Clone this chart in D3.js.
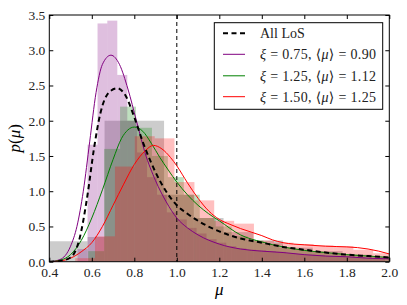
<!DOCTYPE html>
<html>
<head>
<meta charset="utf-8">
<script src="https://cdn.jsdelivr.net/npm/d3@7"></script>
<style>
  html, body { margin: 0; padding: 0; background: #fff; }
  svg { display: block; }
  text { font-family: "Liberation Serif", "DejaVu Serif", serif; }
</style>
</head>
<body>
<svg id="chart" width="407" height="305"></svg>
<script>
// ---------------- DATA ----------------
const xTicks = [0.4, 0.6, 0.8, 1.0, 1.2, 1.4, 1.6, 1.8, 2.0];
const yTicks = [0.0, 0.5, 1.0, 1.5, 2.0, 2.5, 3.0, 3.5];

// histograms (bin edges, heights)
const allEdges   = [0.40, 0.58, 0.66, 0.80, 0.94, 1.08, 1.22, 1.36, 1.50, 1.64, 1.78, 1.92, 2.06];
const allHeights = [0.29, 0.35, 2.00, 2.00, 0.95, 0.62, 0.42, 0.30, 0.20, 0.15, 0.10, 0.07];

const purpleEdges = [0.533, 0.580, 0.627, 0.673, 0.720, 0.767, 0.813, 0.860, 0.907, 0.953, 1.000,
  1.047, 1.093, 1.140, 1.187, 1.233, 1.280, 1.327, 1.373, 1.420, 1.467, 1.513, 1.560, 1.607,
  1.653, 1.700, 1.747, 1.793, 1.840, 1.887, 1.933, 1.980];
const purpleHeights = [0.18, 1.66, 3.38, 3.42, 2.65, 2.00, 1.55, 1.20, 0.95, 0.70, 0.60,
  0.48, 0.40, 0.32, 0.27, 0.22, 0.19, 0.17, 0.16, 0.15, 0.14, 0.12, 0.11, 0.10,
  0.09, 0.08, 0.08, 0.07, 0.06, 0.05, 0.05];

const greenEdges = [0.583, 0.658, 0.733, 0.808, 0.883, 0.958, 1.033, 1.108, 1.183, 1.258, 1.333,
  1.408, 1.483, 1.558, 1.633, 1.708, 1.783, 1.858, 1.933, 2.008];
const greenHeights = [0.15, 1.60, 2.20, 1.90, 1.50, 1.20, 0.95, 0.62, 0.50, 0.36, 0.30,
  0.25, 0.20, 0.17, 0.14, 0.12, 0.10, 0.08, 0.06];

const redEdges = [0.522, 0.615, 0.709, 0.802, 0.896, 0.989, 1.083, 1.176, 1.270, 1.363, 1.457,
  1.550, 1.644, 1.737, 1.831, 1.924, 2.018];
const redHeights = [0.05, 0.36, 1.35, 1.78, 1.75, 1.13, 0.87, 0.58, 0.54, 0.30, 0.27,
  0.25, 0.23, 0.22, 0.17, 0.12];

// smooth curves
const allMu = [0.40, 0.45, 0.50, 0.54, 0.58, 0.61, 0.64, 0.68, 0.72, 0.76, 0.80, 0.84, 0.88, 0.92, 0.96,
  1.00, 1.05, 1.10, 1.20, 1.30, 1.40, 1.50, 1.60, 1.70, 1.80, 1.90, 2.00];
const allP  = [0.00, 0.01, 0.06, 0.30, 0.95, 1.60, 2.10, 2.40, 2.46, 2.35, 2.05, 1.70, 1.40, 1.15, 0.95,
  0.80, 0.68, 0.58, 0.43, 0.33, 0.27, 0.21, 0.17, 0.13, 0.10, 0.08, 0.06];

const purpleMu = [0.40, 0.45, 0.50, 0.53, 0.56, 0.59, 0.62, 0.65, 0.69, 0.73, 0.77, 0.81, 0.85, 0.90, 0.95,
  1.00, 1.05, 1.10, 1.20, 1.30, 1.40, 1.50, 1.60, 1.70, 1.80, 1.90, 2.00];
const purpleP  = [0.00, 0.03, 0.22, 0.50, 1.00, 1.70, 2.40, 2.80, 2.93, 2.80, 2.45, 2.00, 1.55, 1.15, 0.85,
  0.62, 0.48, 0.38, 0.25, 0.18, 0.15, 0.13, 0.10, 0.08, 0.07, 0.05, 0.04];

const greenMu = [0.40, 0.45, 0.50, 0.55, 0.60, 0.65, 0.70, 0.74, 0.77, 0.80, 0.84, 0.88, 0.92, 0.96,
  1.00, 1.05, 1.10, 1.15, 1.20, 1.30, 1.40, 1.50, 1.60, 1.70, 1.80, 1.90, 2.00];
const greenP  = [0.00, 0.02, 0.10, 0.30, 0.62, 1.02, 1.45, 1.75, 1.87, 1.91, 1.85, 1.68, 1.48, 1.30,
  1.13, 0.95, 0.80, 0.68, 0.58, 0.38, 0.28, 0.21, 0.16, 0.13, 0.10, 0.08, 0.06];

const redMu = [0.40, 0.45, 0.50, 0.55, 0.60, 0.65, 0.70, 0.75, 0.80, 0.85, 0.89, 0.93, 0.97, 1.00,
  1.05, 1.10, 1.15, 1.20, 1.25, 1.30, 1.35, 1.40, 1.45, 1.50, 1.55, 1.60, 1.70, 1.80, 1.85, 1.90, 1.95, 2.00];
const redP  = [0.00, 0.01, 0.05, 0.14, 0.27, 0.50, 0.80, 1.10, 1.38, 1.57, 1.65, 1.60, 1.48, 1.36,
  1.12, 0.90, 0.72, 0.60, 0.53, 0.47, 0.42, 0.37, 0.31, 0.27, 0.25, 0.24, 0.22, 0.21, 0.20, 0.18, 0.15, 0.11];

const legendLabels = [
  [{t: "All LoS"}],
  [{t: "ξ", i: true}, {t: " = 0.75, ⟨"}, {t: "μ", i: true}, {t: "⟩ = 0.90"}],
  [{t: "ξ", i: true}, {t: " = 1.25, ⟨"}, {t: "μ", i: true}, {t: "⟩ = 1.12"}],
  [{t: "ξ", i: true}, {t: " = 1.50, ⟨"}, {t: "μ", i: true}, {t: "⟩ = 1.25"}]
];

// ---------------- CHART ----------------
const svg = d3.select("#chart");
const L = 49.3, R = 389.3, T = 15, B = 261.7;
const x = d3.scaleLinear().domain([0.4, 2.0]).range([L, R]);
const y = d3.scaleLinear().domain([0, 3.5]).range([B, T]);

svg.append("defs").append("clipPath").attr("id", "clip")
  .append("rect").attr("x", L).attr("y", T).attr("width", R - L).attr("height", B - T);

const plot = svg.append("g").attr("clip-path", "url(#clip)");

function hist(edges, heights, color, alpha) {
  const bins = heights.map((h, i) => ({x0: edges[i], x1: edges[i + 1], h}));
  plot.append("g").selectAll("rect").data(bins).join("rect")
    .attr("x", d => x(d.x0))
    .attr("width", d => x(d.x1) - x(d.x0))
    .attr("y", d => y(d.h))
    .attr("height", d => y(0) - y(d.h))
    .attr("fill", color)
    .attr("fill-opacity", alpha);
}
hist(allEdges, allHeights, "#808080", 0.4);
hist(purpleEdges, purpleHeights, "#800080", 0.25);
hist(greenEdges, greenHeights, "#008000", 0.25);
hist(redEdges, redHeights, "#ff0000", 0.25);

// vertical line at mu = 1
plot.append("line")
  .attr("x1", x(1.0)).attr("x2", x(1.0)).attr("y1", T).attr("y2", B)
  .attr("stroke", "#000").attr("stroke-width", 1).attr("stroke-dasharray", "4,3");

function curve(mu, p, color, width, dash) {
  const pts = mu.map((m, i) => [m, p[i]]);
  const line = d3.line().x(d => x(d[0])).y(d => y(d[1])).curve(d3.curveMonotoneX);
  const path = plot.append("path").datum(pts)
    .attr("d", line)
    .attr("fill", "none")
    .attr("stroke", color)
    .attr("stroke-width", width);
  if (dash) path.attr("stroke-dasharray", dash);
}
curve(purpleMu, purpleP, "#800080", 1);
curve(greenMu, greenP, "#008000", 1);
curve(redMu, redP, "#ff0000", 1);
curve(allMu, allP, "#000000", 2, "5,3.5");

// axes (ticks inward on all four sides)
const fmt = d3.format(".1f");
const gB = svg.append("g").attr("transform", `translate(0,${B})`)
  .call(d3.axisBottom(x).tickValues(xTicks).tickFormat(fmt).tickSizeInner(-4).tickSizeOuter(0).tickPadding(6));
const gT = svg.append("g").attr("transform", `translate(0,${T})`)
  .call(d3.axisTop(x).tickValues(xTicks).tickFormat("").tickSizeInner(-4).tickSizeOuter(0));
const gL = svg.append("g").attr("transform", `translate(${L},0)`)
  .call(d3.axisLeft(y).tickValues(yTicks).tickFormat(fmt).tickSizeInner(-4).tickSizeOuter(0).tickPadding(4));
const gR = svg.append("g").attr("transform", `translate(${R},0)`)
  .call(d3.axisRight(y).tickValues(yTicks).tickFormat("").tickSizeInner(-4).tickSizeOuter(0));
[gB, gT, gL, gR].forEach(g => {
  g.select(".domain").remove();
  g.selectAll(".tick line").attr("stroke", "#000").attr("stroke-width", 1);
  g.selectAll(".tick text").attr("fill", "#222").style("font-size", "13.5px")
    .style("font-family", "'Liberation Serif', 'DejaVu Serif', serif");
});

// frame
svg.append("rect").attr("x", L).attr("y", T).attr("width", R - L).attr("height", B - T)
  .attr("fill", "none").attr("stroke", "#000").attr("stroke-width", 1);

// axis labels
svg.append("text").attr("x", (L + R) / 2).attr("y", 295)
  .attr("text-anchor", "middle").style("font-size", "17px").style("font-style", "italic")
  .text("μ");
svg.append("text").attr("transform", `translate(20,${(T + B) / 2}) rotate(-90)`)
  .attr("text-anchor", "middle").style("font-size", "17px")
  .call(t => {
    t.append("tspan").style("font-style", "italic").text("p");
    t.append("tspan").text("(");
    t.append("tspan").style("font-style", "italic").text("μ");
    t.append("tspan").text(")");
  });

// legend
const lg = svg.append("g");
lg.append("rect").attr("x", 214.3).attr("y", 22.7).attr("width", 168.4).attr("height", 86.6)
  .attr("fill", "#fff").attr("stroke", "#000").attr("stroke-width", 1);
const lgColors = ["#000000", "#800080", "#008000", "#ff0000"];
const lgRowY = [33.3, 54.3, 75.8, 96.7];
legendLabels.forEach((parts, i) => {
  const ly = lgRowY[i];
  lg.append("line").attr("x1", 223).attr("x2", 245).attr("y1", ly).attr("y2", ly)
    .attr("stroke", lgColors[i]).attr("stroke-width", i === 0 ? 2 : 1)
    .attr("stroke-dasharray", i === 0 ? "5,3.5" : null);
  const t = lg.append("text").attr("x", 260).attr("y", ly + 4.8)
    .style("font-size", "14px").attr("fill", "#222");
  parts.forEach(p => {
    const ts = t.append("tspan").text(p.t);
    if (p.i) ts.style("font-style", "italic");
  });
  if (i > 0) t.attr("textLength", 116).attr("lengthAdjust", "spacing");
});
</script>
</body>
</html>
